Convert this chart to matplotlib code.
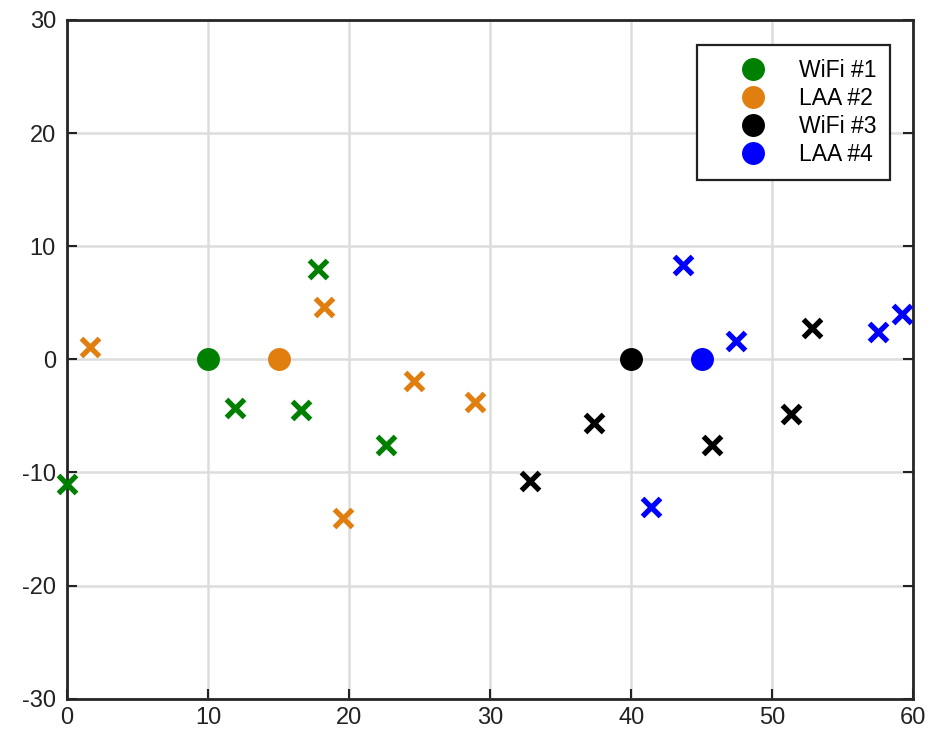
import matplotlib.pyplot as plt

plt.rcParams['font.family'] = ['Liberation Sans', 'DejaVu Sans']
plt.rcParams['axes.unicode_minus'] = False

# access points (circles) and stations (crosses) per network
names = ["WiFi #1", "LAA #2", "WiFi #3", "LAA #4"]
colors = ["#008000", "#e07f10", "#000000", "#0000ff"]

ap_x = [10, 15, 40, 45]
ap_y = [0, 0, 0, 0]

sta_x = [
    [0.0, 11.9, 16.6, 17.8, 22.6],
    [1.6, 18.2, 19.6, 24.6, 28.9],
    [32.8, 37.4, 45.7, 51.3, 52.8],
    [43.7, 41.4, 47.4, 57.5, 59.2],
]
sta_y = [
    [-11.0, -4.3, -4.5, 8.0, -7.6],
    [1.1, 4.6, -14.0, -1.9, -3.8],
    [-10.8, -5.6, -7.6, -4.8, 2.8],
    [8.3, -13.1, 1.6, 2.4, 4.0],
]

xticks = [0, 10, 20, 30, 40, 50, 60]
yticks = [-30, -20, -10, 0, 10, 20, 30]

fig = plt.figure(figsize=(9.3, 7.37), dpi=100)
ax = fig.add_axes([0.072, 0.052, 0.910, 0.921])

for i in range(len(names)):
    ax.plot(sta_x[i], sta_y[i], linestyle='none', marker='x', markersize=13.5,
            markeredgewidth=3.8, color=colors[i], clip_on=False, zorder=3)
for i in range(len(names)):
    ax.plot(ap_x[i], ap_y[i], linestyle='none', marker='o', markersize=15.5,
            color=colors[i], label=names[i], zorder=4)

ax.set_xlim(0, 60)
ax.set_ylim(-30, 30)
ax.set_xticks(xticks)
ax.set_yticks(yticks)
ax.tick_params(direction='in', length=7, width=1.5, labelsize=17,
               top=False, right=True, colors='#222222')
ax.tick_params(axis='x', pad=6)
ax.tick_params(axis='y', pad=8)
ax.grid(True, color='#dddddd', linewidth=1.8)
ax.set_axisbelow(True)
for sp in ax.spines.values():
    sp.set_linewidth(2)
    sp.set_color('#262626')

leg = ax.legend(loc='upper right', bbox_to_anchor=(0.973, 0.963), borderaxespad=0,
                fontsize=16.5, fancybox=False, edgecolor='#222222', framealpha=1,
                handlelength=3.7, handletextpad=0.15, labelspacing=0.22,
                borderpad=0.6, markerscale=1.0)
leg.get_frame().set_linewidth(1.6)

fig.savefig('out.png', dpi=100)
